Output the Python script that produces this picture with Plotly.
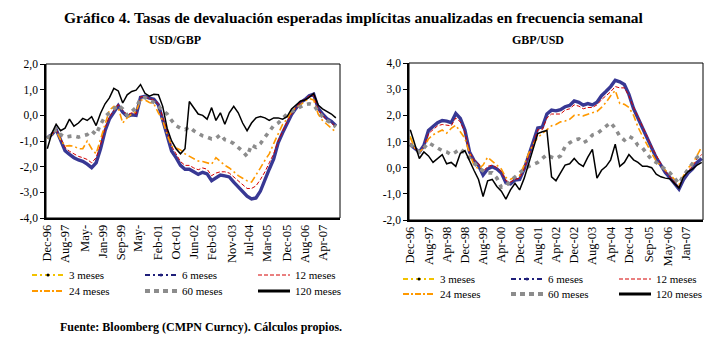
import plotly.graph_objects as go

# ---------------- data ----------------
dates_usdgbp = ["1996-12-01",
 "1997-02-01","1997-04-01","1997-06-01","1997-08-01","1997-10-01","1997-12-01",
 "1998-02-01","1998-04-01","1998-06-01","1998-08-01","1998-10-01","1998-12-01",
 "1999-02-01","1999-04-01","1999-06-01","1999-08-01","1999-10-01","1999-12-01",
 "2000-02-01","2000-04-01","2000-06-01","2000-08-01","2000-10-01","2000-12-01",
 "2001-02-01","2001-04-01","2001-06-01","2001-08-01","2001-10-01","2001-12-01",
 "2002-02-01","2002-04-01","2002-06-01","2002-08-01","2002-10-01","2002-12-01",
 "2003-02-01","2003-04-01","2003-06-01","2003-08-01","2003-10-01","2003-12-01",
 "2004-02-01","2004-04-01","2004-06-01","2004-08-01","2004-10-01","2004-12-01",
 "2005-02-01","2005-04-01","2005-06-01","2005-08-01","2005-10-01","2005-12-01",
 "2006-02-01","2006-04-01","2006-06-01","2006-08-01","2006-10-01","2006-12-01",
 "2007-02-01","2007-04-01","2007-06-01","2007-08-01","2007-10-01"]

dates_gbpusd = dates_usdgbp[:-1]

usdgbp_3m = [-0.9,-0.76,-0.56,-0.98,-1.4,-1.54,-1.66,-1.76,-1.8,-1.92,
 -2.06,-1.86,-1.32,-0.62,-0.16,0.1,0.36,0.1,-0.05,0.0,
 -0.02,0.68,0.73,0.66,0.62,0.4,-0.17,-0.82,-1.4,-1.67,
 -1.97,-2.12,-2.12,-2.22,-2.32,-2.24,-2.3,-2.57,-2.47,-2.35,
 -2.38,-2.42,-2.62,-2.82,-3.0,-3.17,-3.28,-3.24,-2.97,-2.5,
 -2.12,-1.72,-1.09,-0.7,-0.34,0.02,0.26,0.49,0.6,0.75,
 0.8,0.26,0.04,-0.14,-0.25,-0.42]
usdgbp_6m = [-0.88,-0.75,-0.55,-0.97,-1.38,-1.52,-1.65,-1.74,-1.79,-1.9,
 -2.04,-1.85,-1.3,-0.6,-0.15,0.12,0.38,0.12,-0.04,0.02,
 0.0,0.7,0.74,0.67,0.63,0.41,-0.15,-0.8,-1.39,-1.65,
 -1.95,-2.1,-2.1,-2.2,-2.3,-2.22,-2.28,-2.55,-2.45,-2.33,
 -2.36,-2.4,-2.6,-2.8,-2.98,-3.15,-3.26,-3.22,-2.95,-2.49,
 -2.1,-1.7,-1.07,-0.68,-0.32,0.03,0.27,0.5,0.61,0.76,
 0.82,0.28,0.05,-0.13,-0.23,-0.4]
usdgbp_12m = [-0.88,-0.75,-0.55,-0.9,-1.25,-1.4,-1.5,-1.6,-1.65,-1.72,
 -1.85,-1.65,-1.15,-0.5,-0.05,0.2,0.42,0.2,0.02,0.1,
 0.05,0.72,0.74,0.65,0.6,0.45,-0.05,-0.6,-1.2,-1.5,
 -1.8,-1.95,-1.95,-2.05,-2.12,-2.05,-2.1,-2.35,-2.25,-2.2,
 -2.2,-2.25,-2.4,-2.55,-2.7,-2.85,-2.85,-2.75,-2.5,-2.2,
 -1.85,-1.5,-1.0,-0.6,-0.25,0.05,0.3,0.5,0.62,0.75,
 0.78,0.22,0.0,-0.2,-0.3,-0.45]
usdgbp_24m = [-0.9,-0.75,-0.6,-0.95,-1.2,-1.18,-1.2,-1.3,-1.3,-1.0,
 -1.3,-1.5,-0.95,-0.3,0.2,0.35,0.3,-0.3,-0.1,0.05,
 0.15,0.6,0.6,0.5,0.45,0.1,-0.2,-0.75,-1.2,-1.27,
 -1.35,-1.5,-1.6,-1.7,-1.78,-1.8,-1.85,-1.9,-1.65,-1.8,
 -1.95,-2.05,-2.2,-2.35,-2.45,-2.55,-2.6,-2.35,-2.05,-1.75,
 -1.5,-1.1,-0.7,-0.35,-0.15,0.15,0.3,0.4,0.55,0.65,
 0.6,0.05,-0.2,-0.35,-0.5,-0.65]
usdgbp_60m = [-0.9,-0.7,-0.55,-0.75,-0.85,-0.82,-0.8,-0.85,-0.8,-0.75,
 -0.6,-0.75,-0.35,-0.05,0.1,0.25,0.4,0.25,0.0,0.15,
 0.3,0.65,0.7,0.6,0.5,0.35,0.2,0.05,-0.2,-0.4,
 -0.5,-0.55,-0.45,-0.6,-0.7,-0.8,-0.85,-0.92,-0.9,-0.75,
 -0.95,-1.0,-1.1,-1.25,-1.4,-1.6,-1.15,-1.25,-1.1,-0.85,
 -0.6,-0.4,-0.3,-0.1,0.05,0.15,0.25,0.35,0.42,0.45,
 0.4,0.15,-0.05,-0.2,-0.3,-0.45]
usdgbp_120m = [-1.3,-0.7,-0.35,-0.6,-0.5,-0.15,-0.42,-0.3,-0.12,-0.2,
 -0.05,-0.4,0.08,0.45,0.68,1.05,0.95,0.48,0.8,0.93,
 0.98,1.2,0.86,0.75,0.82,0.8,0.35,-0.5,-1.0,-1.3,
 -1.5,-1.3,0.54,0.3,0.05,0.0,-0.15,0.3,-0.2,0.1,
 -0.35,0.1,0.35,0.1,-0.3,-0.6,-0.3,-0.1,-0.05,-0.1,
 -0.2,-0.1,-0.1,-0.15,-0.05,0.25,0.4,0.55,0.6,0.7,
 0.85,0.4,0.25,0.15,0.05,-0.1]

gbpusd_3m = [1.2,0.75,0.62,0.83,1.4,1.55,1.7,1.78,1.76,1.7,
 2.05,1.86,1.42,0.62,0.3,0.1,-0.26,-0.03,0.06,-0.03,
 -0.18,-0.56,-0.6,-0.45,-0.43,-0.03,0.5,0.93,1.5,1.53,
 2.03,2.18,2.15,2.2,2.31,2.36,2.53,2.48,2.37,2.43,
 2.38,2.48,2.73,2.9,3.08,3.32,3.26,3.16,2.78,2.24,
 1.88,1.46,1.08,0.74,0.36,0.08,-0.2,-0.4,-0.62,-0.84,
 -0.47,-0.22,-0.07,0.18,0.33]
gbpusd_6m = [0.88,0.72,0.6,0.85,1.42,1.57,1.72,1.8,1.78,1.72,
 2.07,1.88,1.44,0.6,0.28,0.08,-0.28,-0.05,0.04,-0.05,
 -0.2,-0.58,-0.62,-0.47,-0.45,-0.05,0.48,0.95,1.52,1.55,
 2.05,2.2,2.17,2.22,2.33,2.38,2.55,2.5,2.39,2.45,
 2.4,2.5,2.75,2.92,3.1,3.34,3.28,3.18,2.8,2.26,
 1.9,1.48,1.1,0.76,0.38,0.1,-0.18,-0.38,-0.6,-0.82,
 -0.45,-0.2,-0.05,0.2,0.35]
gbpusd_12m = [0.95,0.72,0.6,0.8,1.3,1.45,1.6,1.65,1.62,1.6,
 1.9,1.75,1.35,0.6,0.3,0.15,-0.15,0.05,0.1,0.0,
 -0.15,-0.5,-0.55,-0.45,-0.4,-0.05,0.45,0.9,1.45,1.45,
 1.9,2.05,2.05,2.05,2.2,2.25,2.4,2.35,2.25,2.3,
 2.3,2.4,2.6,2.75,2.9,3.1,3.05,3.05,2.75,2.3,
 1.95,1.6,1.2,0.8,0.45,0.15,-0.15,-0.35,-0.55,-0.75,
 -0.35,-0.1,0.05,0.35,0.5]
gbpusd_24m = [1.15,0.74,0.6,0.75,1.1,1.25,1.35,1.44,1.32,1.5,
 1.62,1.35,1.12,0.55,0.1,-0.05,0.1,0.4,0.25,0.1,
 -0.05,-0.38,-0.45,-0.35,-0.3,0.1,0.55,0.9,1.15,1.3,
 1.45,1.6,1.65,1.75,1.78,1.85,2.0,2.02,1.98,2.05,
 2.1,2.15,2.3,2.5,2.75,2.95,2.45,2.42,2.3,2.0,
 1.55,1.2,0.85,0.55,0.25,0.05,-0.1,-0.25,-0.45,-0.65,
 -0.3,0.0,0.15,0.45,0.8]
gbpusd_60m = [0.9,0.72,0.6,0.75,0.95,0.85,0.75,0.65,0.6,0.5,
 0.6,0.72,0.55,0.35,0.2,0.0,-0.12,-0.2,-0.2,-0.4,
 -0.75,-0.7,-0.5,-0.35,-0.2,-0.05,0.05,0.12,0.2,0.35,
 0.5,0.4,0.35,0.45,0.8,0.95,1.05,1.1,0.95,1.05,
 1.25,1.3,1.45,1.6,1.72,1.5,1.2,1.05,1.2,1.1,
 0.85,0.75,0.5,0.3,0.2,0.05,-0.05,-0.2,-0.4,-0.6,
 -0.3,-0.05,0.15,0.4,0.55]
gbpusd_120m = [1.45,0.85,0.35,0.6,0.45,0.2,0.35,0.5,0.15,0.2,
 0.05,0.55,0.65,0.25,-0.1,-0.45,-1.1,-0.5,-0.45,-0.72,
 -0.9,-1.2,-0.85,-0.6,-0.85,-0.4,0.15,0.8,1.3,1.37,
 1.42,-0.35,-0.5,-0.2,0.1,0.15,0.35,0.15,0.05,0.4,
 0.7,-0.4,-0.1,0.05,0.3,0.9,0.05,0.2,0.5,0.3,
 0.2,0.05,0.05,0.0,-0.25,-0.35,-0.4,-0.42,-0.6,-0.78,
 -0.35,-0.15,-0.05,0.1,0.2]

series_names = ["3 meses", "6 meses", "12 meses", "24 meses", "60 meses", "120 meses"]

usdgbp_tickvals = ["1996-12-01","1997-08-01","1998-05-01","1999-01-01","1999-09-01","2000-05-01",
 "2001-02-01","2001-10-01","2002-06-01","2003-02-01","2003-11-01","2004-07-01",
 "2005-03-01","2005-12-01","2006-08-01","2007-04-01"]
usdgbp_ticktext = ["Dec-96","Aug-97","May-","Jan-99","Sep-99","May-","Feb-01","Oct-01",
 "Jun-02","Feb-03","Nov-03","Jul-04","Mar-05","Dec-05","Aug-06","Apr-07"]
gbpusd_tickvals = ["1996-12-01","1997-08-01","1998-04-01","1998-12-01","1999-08-01","2000-04-01",
 "2000-12-01","2001-08-01","2002-04-01","2002-12-01","2003-08-01","2004-04-01",
 "2004-12-01","2005-09-01","2006-05-01","2007-01-01"]
gbpusd_ticktext = ["Dec-96","Aug-97","Apr-98","Dec-98","Aug-99","Apr-00","Dec-00","Aug-01",
 "Apr-02","Dec-02","Aug-03","Apr-04","Dec-04","Sep-05","May-06","Jan-07"]

usdgbp_yticks = [-4, -3, -2, -1, 0, 1, 2]
usdgbp_yticktext = ["-4,0", "-3,0", "-2,0", "-1,0", "0,0", "1,0", "2,0"]
gbpusd_yticks = [-2, -1, 0, 1, 2, 3, 4]
gbpusd_yticktext = ["-2,0", "-1,0", "0,0", "1,0", "2,0", "3,0", "4,0"]

# ---------------- styles ----------------
W, H = 725, 342
SERIF = "Liberation Serif"

plot_styles = [
    dict(color="#F2C200", width=1.2, dash="6px,3px,2px,3px"),
    dict(color="#383894", width=3.4, dash="solid"),
    dict(color="#D40000", width=1.0, dash="4px,2px"),
    dict(color="#FF9900", width=1.6, dash="7px,3px,2px,3px"),
    dict(color="#8C8C8C", width=3.6, dash="4px,5px"),
    dict(color="#000000", width=1.5, dash="solid"),
]
legend_styles = [
    dict(line=dict(color="#F2C200", width=2, dash="5px,3px,2px,3px"), marker=dict(color="#000000", size=3)),
    dict(line=dict(color="#1F1F7A", width=2, dash="5px,3px,2px,3px"), marker=dict(color="#1F1F7A", size=3)),
    dict(line=dict(color="#D40000", width=1, dash="4px,2px"), marker=None),
    dict(line=dict(color="#FF9900", width=2, dash="6px,2px,2px,2px"), marker=None),
    dict(line=dict(color="#8C8C8C", width=4, dash="5px,4px"), marker=None),
    dict(line=dict(color="#000000", width=3, dash="solid"), marker=None),
]

fig = go.Figure()

charts = [
    (dates_usdgbp, [usdgbp_3m, usdgbp_6m, usdgbp_12m, usdgbp_24m, usdgbp_60m, usdgbp_120m], "x", "y", ("legend", "legend2")),
    (dates_gbpusd, [gbpusd_3m, gbpusd_6m, gbpusd_12m, gbpusd_24m, gbpusd_60m, gbpusd_120m], "x2", "y2", ("legend3", "legend4")),
]

for dates, series, xa, ya, legs in charts:
    for i, (name, vals) in enumerate(zip(series_names, series)):
        fig.add_trace(go.Scatter(x=dates, y=vals, mode="lines", name=name,
                                 line=plot_styles[i], xaxis=xa, yaxis=ya,
                                 showlegend=False, hoverinfo="skip"))
    for i, name in enumerate(series_names):
        st = legend_styles[i]
        kw = dict(x=[None], y=[None], name=name, xaxis=xa, yaxis=ya,
                  legend=legs[0] if i < 3 else legs[1], line=st["line"])
        if st["marker"] is not None:
            kw["mode"] = "lines+markers"
            kw["marker"] = st["marker"]
        else:
            kw["mode"] = "lines"
        fig.add_trace(go.Scatter(**kw))

def px_x(p):
    return p / W

def px_y(p):
    return 1 - p / H

axis_common = dict(showgrid=False, zeroline=False, showline=True, linecolor="black",
                   linewidth=1.6, mirror=False, automargin=False)

fig.update_layout(
    width=W, height=H, margin=dict(l=0, r=0, t=0, b=0),
    paper_bgcolor="white", plot_bgcolor="white",
    font=dict(family=SERIF, color="black", size=11),
    separators=",.",
    xaxis=dict(domain=[px_x(46), px_x(340)], type="date",
               range=["1996-11-13", "2007-11-27"],
               tickmode="array", tickvals=usdgbp_tickvals, ticktext=usdgbp_ticktext,
               tickangle=-90, ticks="", tickfont=dict(size=12.5, family=SERIF),
               anchor="y", **axis_common),
    yaxis=dict(domain=[px_y(218), px_y(64)], range=[-4, 2],
               tickmode="array", tickvals=usdgbp_yticks, ticktext=usdgbp_yticktext,
               ticks="outside", ticklen=4, tickcolor="black", tickwidth=1,
               tickfont=dict(size=11.5, family=SERIF), anchor="x", **axis_common),
    xaxis2=dict(domain=[px_x(409), px_x(703)], type="date",
                range=["1996-11-14", "2007-08-18"],
                tickmode="array", tickvals=gbpusd_tickvals, ticktext=gbpusd_ticktext,
                tickangle=-90, ticks="", tickfont=dict(size=12.5, family=SERIF),
                anchor="y2", **axis_common),
    yaxis2=dict(domain=[px_y(220), px_y(63)], range=[-2, 4],
                tickmode="array", tickvals=gbpusd_yticks, ticktext=gbpusd_yticktext,
                ticks="outside", ticklen=4, tickcolor="black", tickwidth=1,
                tickfont=dict(size=11.5, family=SERIF), anchor="x2", **axis_common),
    showlegend=True,
)

leg_common = dict(orientation="h", xanchor="left", yanchor="middle", bgcolor="rgba(0,0,0,0)",
                  borderwidth=0, itemwidth=32, entrywidthmode="pixels",
                  font=dict(size=11, family=SERIF, color="black"),
                  itemclick=False, itemdoubleclick=False, tracegroupgap=0)
fig.update_layout(
    legend=dict(x=px_x(27), y=px_y(275), entrywidth=66, **leg_common),
    legend2=dict(x=px_x(27), y=px_y(291), entrywidth=66, **leg_common),
    legend3=dict(x=px_x(398), y=px_y(279), entrywidth=61, **leg_common),
    legend4=dict(x=px_x(398), y=px_y(294), entrywidth=61, **leg_common),
)

# plot-area frames
for xr, yr in (("x domain", "y domain"), ("x2 domain", "y2 domain")):
    fig.add_shape(type="rect", xref=xr, yref=yr, x0=0, x1=1, y0=0, y1=1,
                  line=dict(color="black", width=1), fillcolor="rgba(0,0,0,0)", layer="above")

title_text = "Gráfico 4. Tasas de devaluación esperadas implícitas anualizadas en frecuencia semanal"
subtitle_left = "USD/GBP"
subtitle_right = "GBP/USD"
source_text = "Fuente: Bloomberg (CMPN Curncy). Cálculos propios."

fig.add_annotation(text="<b>" + title_text + "</b>", xref="paper", yref="paper",
                   x=px_x(354), y=px_y(18), xanchor="center", yanchor="middle",
                   showarrow=False, font=dict(size=15.5, family=SERIF, color="black"))
fig.add_annotation(text="<b>" + subtitle_left + "</b>", xref="paper", yref="paper",
                   x=px_x(175), y=px_y(40), xanchor="center", yanchor="middle",
                   showarrow=False, font=dict(size=12, family=SERIF, color="black"))
fig.add_annotation(text="<b>" + subtitle_right + "</b>", xref="paper", yref="paper",
                   x=px_x(538), y=px_y(40), xanchor="center", yanchor="middle",
                   showarrow=False, font=dict(size=12, family=SERIF, color="black"))
fig.add_annotation(text="<b>" + source_text + "</b>", xref="paper", yref="paper",
                   x=px_x(58), y=px_y(327), xanchor="left", yanchor="middle",
                   showarrow=False, font=dict(size=12, family=SERIF, color="black"))

fig.write_html("out.html")
